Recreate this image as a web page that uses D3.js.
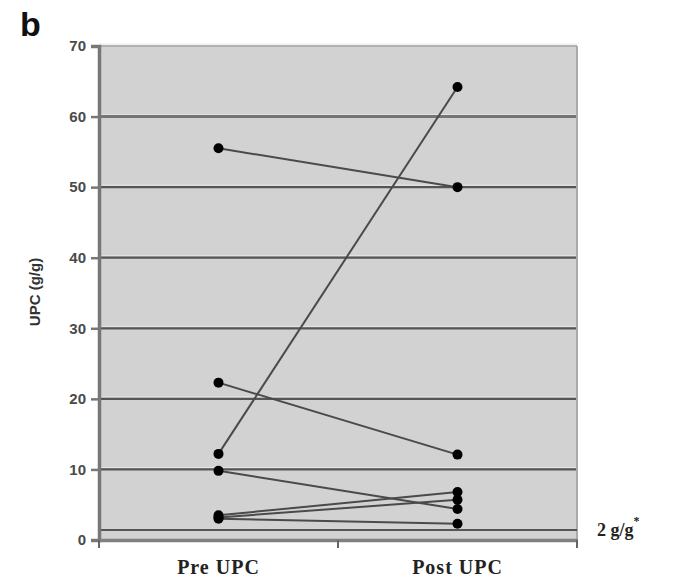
<!DOCTYPE html>
<html><head><meta charset="utf-8">
<script src="https://cdn.jsdelivr.net/npm/d3@7"></script>
<style>body{margin:0;background:#fff}svg{display:block}</style>
</head><body>
<svg id="c" width="673" height="580"></svg>
<script>
const categories = ["Pre UPC", "Post UPC"];
const preValues  = [55.5, 12.2, 22.3, 9.8, 3.5, 3.2, 3.0];
const postValues = [50.0, 64.2, 12.1, 4.4, 6.8, 5.7, 2.3];
const yTicks = [0, 10, 20, 30, 40, 50, 60, 70];
const thresholdValue = 1.4;
const thresholdLabel = "2 g/g";

const svg = d3.select("#c");
const L = 99, R = 577, T = 46, B = 540;
const x = d3.scaleBand().domain(categories).range([L, R]);
const y = d3.scaleLinear().domain([0, 70]).range([B, T]);

// plot background
svg.append("rect").attr("x", L).attr("y", T).attr("width", R - L).attr("height", B - T).attr("fill", "#d2d2d2");

// gridlines
yTicks.filter(t => t > 0).forEach(t => {
  const yy = y(t);
  svg.append("line").attr("x1", L).attr("x2", R).attr("y1", yy - 2).attr("y2", yy - 2).attr("stroke", "#e6e6e6").attr("stroke-width", 1);
  svg.append("line").attr("x1", L).attr("x2", R).attr("y1", yy).attr("y2", yy)
    .attr("stroke", t === 70 ? "#b0b0b0" : (t === 60 ? "#757575" : "#555")).attr("stroke-width", t === 60 ? 3 : 2.2);
});
// right border
svg.append("line").attr("x1", R).attr("x2", R).attr("y1", T).attr("y2", B + 8).attr("stroke", "#aaa").attr("stroke-width", 2);

// threshold line
svg.append("line").attr("x1", L).attr("x2", R).attr("y1", y(thresholdValue)).attr("y2", y(thresholdValue)).attr("stroke", "#555").attr("stroke-width", 2);

// y axis
const yAxis = svg.append("g").attr("transform", `translate(${L},0)`)
  .call(d3.axisLeft(y).tickValues(yTicks).tickSize(8).tickPadding(5));
yAxis.select(".domain").attr("stroke", "#777").attr("stroke-width", 3.5);
yAxis.selectAll(".tick line").attr("stroke", "#777").attr("stroke-width", 2.5);
yAxis.selectAll(".tick text").attr("font-family", "Liberation Sans, Arial, sans-serif").attr("font-weight", "bold").attr("font-size", 15).attr("fill", "#4a4a4a");

// x axis
const xAxis = svg.append("g").attr("transform", `translate(0,${B})`)
  .call(d3.axisBottom(x).tickSize(0).tickPadding(20));
xAxis.select(".domain").attr("stroke", "#808080").attr("stroke-width", 3.5);
xAxis.selectAll(".tick text").attr("font-family", "Liberation Serif, Times New Roman, serif").attr("font-weight", "bold").attr("font-size", 20).attr("letter-spacing", 1).attr("fill", "#222");
[L, (L + R) / 2, R].forEach(xx => {
  svg.append("line").attr("x1", xx).attr("x2", xx).attr("y1", B).attr("y2", B + 8).attr("stroke", "#666").attr("stroke-width", 2);
});

// pair lines and points
const xp = x("Pre UPC") + x.bandwidth() / 2, xq = x("Post UPC") + x.bandwidth() / 2;
preValues.forEach((v, i) => {
  svg.append("line").attr("x1", xp).attr("y1", y(v)).attr("x2", xq).attr("y2", y(postValues[i]))
    .attr("stroke", "#4a4a4a").attr("stroke-width", 2);
});
preValues.forEach(v => svg.append("circle").attr("cx", xp).attr("cy", y(v)).attr("r", 5).attr("fill", "#000"));
postValues.forEach(v => svg.append("circle").attr("cx", xq).attr("cy", y(v)).attr("r", 5).attr("fill", "#000"));

// threshold label
const tl = svg.append("text").attr("x", 597).attr("y", y(thresholdValue) + 6)
  .attr("font-family", "Liberation Serif, Times New Roman, serif").attr("font-weight", "bold").attr("font-size", 18).attr("fill", "#222");
tl.append("tspan").text(thresholdLabel);
tl.append("tspan").attr("dy", -11).attr("font-size", 12).text("*");

// y title
svg.append("text").attr("transform", `translate(40,292) rotate(-90)`).attr("text-anchor", "middle")
  .attr("font-family", "Liberation Sans, Arial, sans-serif").attr("font-weight", "bold").attr("font-size", 15).attr("fill", "#333")
  .text("UPC (g/g)");

// panel letter
svg.append("text").attr("x", 20).attr("y", 36).attr("font-family", "Liberation Sans, Arial, sans-serif")
  .attr("font-weight", "bold").attr("font-size", 34).attr("fill", "#111").text("b");
</script>
</body></html>
